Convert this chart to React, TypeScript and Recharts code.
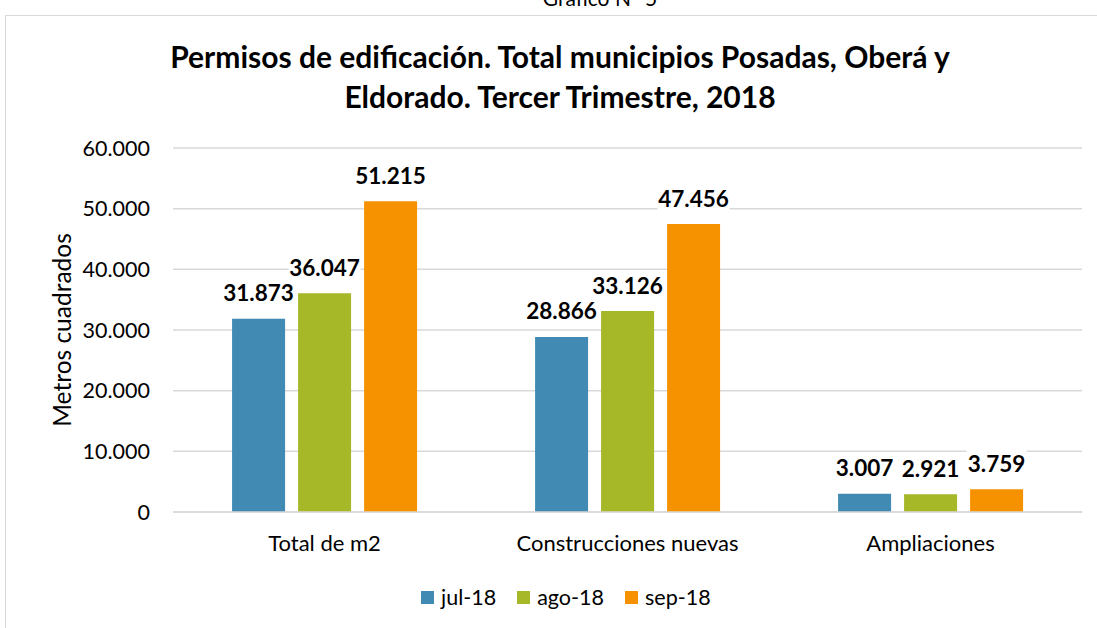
import React from 'react';
import { BarChart, Bar, XAxis, YAxis, CartesianGrid, LabelList } from 'recharts';

const categories = ['Total de m2', 'Construcciones nuevas', 'Ampliaciones'];
const jul18 = [31873, 28866, 3007];
const ago18 = [36047, 33126, 2921];
const sep18 = [51215, 47456, 3759];
const yTicks = [0, 10000, 20000, 30000, 40000, 50000, 60000];

const series = [
    { key: 'jul18', name: 'jul-18', color: '#418AB3' },
    { key: 'ago18', name: 'ago-18', color: '#A6B727' },
    { key: 'sep18', name: 'sep-18', color: '#F69200' },
];

const data = categories.map((c, i) => ({
    category: c,
    jul18: jul18[i],
    ago18: ago18[i],
    sep18: sep18[i],
}));

const FONT = 'Lato, "Open Sans", sans-serif';

const fmt = (v: number) => String(v).replace(/\B(?=(\d{3})+(?!\d))/g, '.');

const ValueLabel = (props: any) => {
    const { x, y, width, value } = props;
    const cx = x + width / 2;
    const cy = y - 26;
    const txt = fmt(value);
    const w = txt.length * 12;
    return (
        <g>
            <rect x={cx - w / 2} y={cy - 15} width={w} height={30} fill="#fff" />
            <text
                x={cx}
                y={cy}
                textAnchor="middle"
                dominantBaseline="central"
                fontFamily={FONT}
                fontWeight={700}
                fontSize={22.5}
                fill="#000"
            >
                {txt}
            </text>
        </g>
    );
};

export default function App() {
    return (
        <div style={{ position: 'absolute', left: 0, top: 0, width: 1097, height: 628, overflow: 'hidden', background: '#fff' }}>
            <div
                style={{
                    position: 'absolute',
                    left: 0,
                    top: -13,
                    width: 1200,
                    textAlign: 'center',
                    fontFamily: FONT,
                    fontSize: 21,
                    lineHeight: '21px',
                    color: '#000',
                }}
            >
                Gráfico N° 5
            </div>
            <div
                style={{
                    position: 'absolute',
                    left: 5,
                    top: 15,
                    width: 1200,
                    height: 700,
                    border: '1.5px solid #d9d9d9',
                }}
            />
            <div
                style={{
                    position: 'absolute',
                    left: 0,
                    top: 36,
                    width: 1120,
                    textAlign: 'center',
                    fontFamily: FONT,
                    fontWeight: 700,
                    fontSize: 30,
                    lineHeight: '40px',
                    color: '#000',
                }}
            >
                Permisos de edificación. Total municipios Posadas, Oberá y
                <br />
                Eldorado. Tercer Trimestre, 2018
            </div>
            <div style={{ position: 'absolute', left: 0, top: 0 }}>
                <BarChart
                    width={1097}
                    height={628}
                    data={data}
                    margin={{ top: 148, right: 15, left: 23, bottom: 86 }}
                    barCategoryGap="19.5%"
                    barGap={13}
                >
                    <CartesianGrid vertical={false} stroke="#d9d9d9" strokeWidth={1.5} />
                    <XAxis
                        dataKey="category"
                        axisLine={{ stroke: '#d9d9d9', strokeWidth: 1.5 }}
                        tickLine={false}
                        tickSize={0}
                        tickMargin={23}
                        height={30}
                        tick={{ fontFamily: FONT, fontSize: 22, fill: '#000' }}
                        interval={0}
                    />
                    <YAxis
                        width={150}
                        domain={[0, 60000]}
                        ticks={yTicks}
                        tickFormatter={fmt}
                        axisLine={false}
                        tickLine={false}
                        tickSize={0}
                        tickMargin={23}
                        tick={{ fontFamily: FONT, fontSize: 21.5, fill: '#000' }}
                        label={{
                            value: 'Metros cuadrados',
                            angle: -90,
                            position: 'insideLeft',
                            offset: 39,
                            style: { textAnchor: 'middle', fontFamily: FONT, fontSize: 24.5, fill: '#000' },
                        }}
                    />
                    {series.map((s) => (
                        <Bar key={s.key} dataKey={s.key} name={s.name} fill={s.color} isAnimationActive={false}>
                            <LabelList dataKey={s.key} content={<ValueLabel />} />
                        </Bar>
                    ))}
                </BarChart>
            </div>
            <div
                style={{
                    position: 'absolute',
                    top: 584,
                    left: 421,
                    display: 'flex',
                    alignItems: 'center',
                    fontFamily: FONT,
                    fontSize: 21.5,
                    lineHeight: '26px',
                    color: '#000',
                }}
            >
                {series.map((s) => (
                    <div key={s.key} style={{ display: 'flex', alignItems: 'center', marginRight: 21 }}>
                        <span style={{ width: 13, height: 13, background: s.color, display: 'inline-block', marginRight: 7 }} />
                        <span>{s.name}</span>
                    </div>
                ))}
            </div>
        </div>
    );
}
